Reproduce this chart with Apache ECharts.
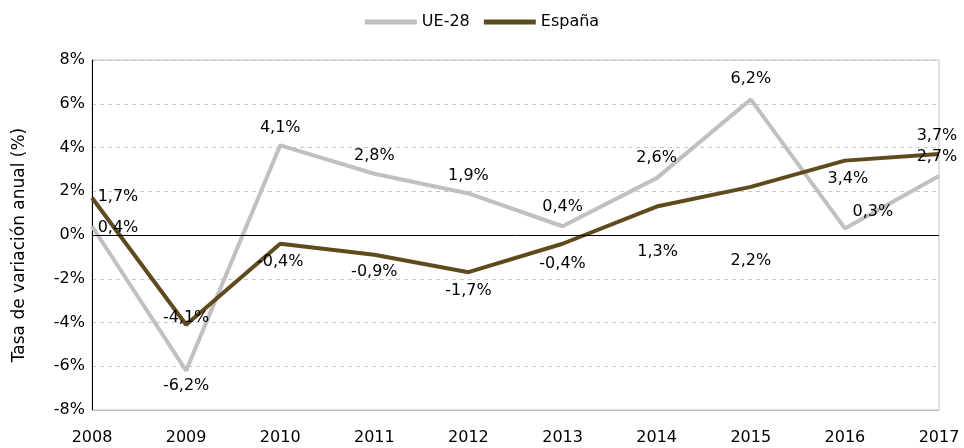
<!DOCTYPE html>
<html>
<head>
<meta charset="utf-8">
<script src="https://cdn.jsdelivr.net/npm/echarts@6/dist/echarts.min.js"></script>
<style>
  html, body { margin: 0; padding: 0; background: #fff; }
  #main { width: 964px; height: 448px; }
</style>
</head>
<body>
<div id="main"></div>
<script>
// data
var years = ['2008', '2009', '2010', '2011', '2012', '2013', '2014', '2015', '2016', '2017'];
var ue28 = [0.4, -6.2, 4.1, 2.8, 1.9, 0.4, 2.6, 6.2, 0.3, 2.7];
var espana = [1.7, -4.1, -0.4, -0.9, -1.7, -0.4, 1.3, 2.2, 3.4, 3.7];

// where each label sits relative to its point (px)
var ueLabelOffset = [[26, 2], [0, 15], [0, -17], [0, -18], [0, -18], [0, -19], [0, -20], [0, -21], [28, -17], [-2, -19]];
var esLabelOffset = [[26, -1], [0, -7], [0, 18], [0, 17], [0, 19], [0, 20], [1, 45], [0, 74], [3, 18], [-2, -18]];

var FONT = 'DejaVu Sans';

function fmt(v) {
    return v.toFixed(1).replace('.', ',') + '%';
}

function buildData(values, offsets) {
    return values.map(function(v, i) {
        return {
            value: v,
            label: {
                position: offsets[i],
                align: 'center',
                verticalAlign: 'middle'
            }
        };
    });
}

var myChart = echarts.init(document.getElementById('main'));
var option = {
    animation: false,
    textStyle: { fontFamily: FONT },
    legend: {
        top: 9,
        left: 'center',
        itemWidth: 52,
        itemHeight: 5,
        itemGap: 14,
        icon: 'rect',
        textStyle: { fontFamily: FONT, fontSize: 16, color: '#000' },
        data: ['UE-28', 'España']
    },
    grid: {
        left: 92,
        right: 25,
        top: 60,
        bottom: 38,
        show: true,
        borderColor: '#bfbfbf',
        borderWidth: 1
    },
    xAxis: {
        type: 'category',
        data: years,
        boundaryGap: false,
        axisLine: { onZero: false, lineStyle: { color: '#bfbfbf', width: 1 } },
        axisTick: { show: false },
        axisLabel: { color: '#000', fontSize: 16, fontFamily: FONT, margin: 20 },
        splitLine: { show: false }
    },
    yAxis: {
        type: 'value',
        min: -8,
        max: 8,
        interval: 2,
        name: 'Tasa de variación anual (%)',
        nameLocation: 'middle',
        nameGap: 64,
        nameTextStyle: { color: '#000', fontSize: 17, fontFamily: FONT, padding: [0, 20, 0, 0] },
        axisLine: { show: true, lineStyle: { color: '#000', width: 1 } },
        axisTick: { show: false },
        axisLabel: {
            color: '#000', fontSize: 16, fontFamily: FONT, margin: 7,
            formatter: '{value}%'
        },
        splitLine: { lineStyle: { color: '#c8c8c8', type: [4, 4], width: 1 } }
    },
    series: [
        {
            name: 'UE-28',
            type: 'line',
            data: buildData(ue28, ueLabelOffset),
            symbol: 'circle',
            symbolSize: 0,
            showSymbol: true,
            lineStyle: { color: '#c0c0c0', width: 4 },
            itemStyle: { color: '#c0c0c0' },
            label: {
                show: true,
                color: '#000',
                fontSize: 16,
                fontFamily: FONT,
                formatter: function(p) { return fmt(p.value); }
            },
            labelLayout: { hideOverlap: false },
            markLine: {
                silent: true,
                symbol: 'none',
                label: { show: false },
                lineStyle: { color: '#000', width: 1, type: 'solid' },
                data: [{ yAxis: 0 }]
            }
        },
        {
            name: 'España',
            type: 'line',
            data: buildData(espana, esLabelOffset),
            symbol: 'circle',
            symbolSize: 0,
            showSymbol: true,
            lineStyle: { color: '#5e4a1c', width: 4 },
            itemStyle: { color: '#5e4a1c' },
            label: {
                show: true,
                color: '#000',
                fontSize: 16,
                fontFamily: FONT,
                formatter: function(p) { return fmt(p.value); }
            },
            labelLayout: { hideOverlap: false }
        }
    ]
};
myChart.setOption(option);
</script>
</body>
</html>
